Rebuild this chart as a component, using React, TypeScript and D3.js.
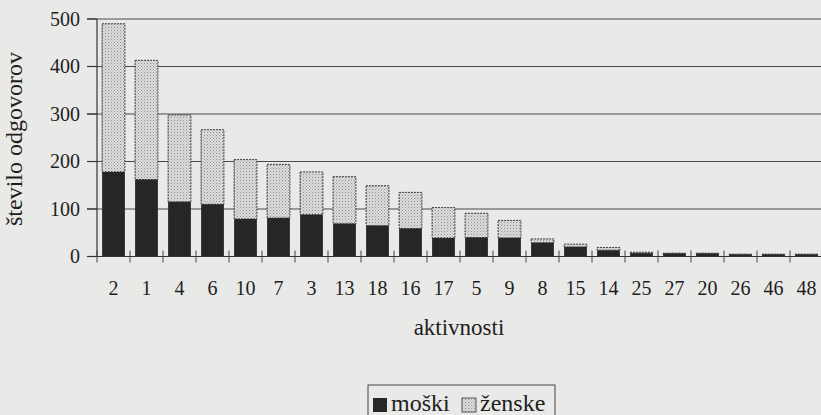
import React, { useRef, useEffect } from 'react';
import * as d3 from 'd3';

// aktivnosti (category codes, in chart order)
const activities = ['2', '1', '4', '6', '10', '7', '3', '13', '18', '16', '17', '5', '9', '8', '15', '14', '25', '27', '20', '26', '46', '48'];
// number of answers, men
const male = [178, 162, 115, 110, 79, 81, 88, 69, 65, 59, 39, 40, 39, 29, 20, 13, 7, 6, 6, 4, 4, 4];
// number of answers, women
const female = [312, 251, 183, 157, 125, 113, 90, 99, 84, 76, 64, 51, 37, 8, 6, 6, 2, 1, 1, 1, 1, 1];
const yTicks = [0, 100, 200, 300, 400, 500];
const seriesNames = ['moški', 'ženske'];

const App = () => {
  const svgRef = useRef<SVGSVGElement>(null);

  useEffect(() => {
    const width = 821;
    const height = 415;
    const font = '"Liberation Serif", "Times New Roman", serif';
    const ink = '#1e1e1e';

    d3.select(svgRef.current).selectAll('*').remove();
    const svg = d3.select(svgRef.current)
      .attr('width', width)
      .attr('height', height);

    // stippled fill for the women's part
    const defs = svg.append('defs');
    const pat = defs.append('pattern')
      .attr('id', 'stipple')
      .attr('width', 3)
      .attr('height', 3)
      .attr('patternUnits', 'userSpaceOnUse');
    pat.append('rect').attr('width', 3).attr('height', 3).attr('fill', '#dcdcdc');
    pat.append('rect').attr('x', 0).attr('y', 0).attr('width', 1).attr('height', 1).attr('fill', '#8f8f8f');
    pat.append('rect').attr('x', 1.5).attr('y', 1.5).attr('width', 1).attr('height', 1).attr('fill', '#aaaaaa');

    // paper
    svg.append('rect').attr('width', width).attr('height', height).attr('fill', '#e9e9e7');

    const x0 = 97;
    const x = d3.scaleBand()
      .domain(activities)
      .range([x0, x0 + 33 * activities.length])
      .paddingInner(0.31)
      .paddingOuter(0.155);

    const y = d3.scaleLinear()
      .domain([0, 500])
      .range([256.5, 19]);

    // gridlines
    svg.append('g')
      .selectAll('line')
      .data(yTicks.filter(d => d > 0))
      .join('line')
      .attr('x1', 87)
      .attr('x2', width)
      .attr('y1', d => y(d))
      .attr('y2', d => y(d))
      .attr('stroke', '#4a4a4a')
      .attr('stroke-width', 1.1);

    // stacked bars
    const rows = activities.map((a, i) => ({ a, m: male[i], f: female[i] }));
    const stack = d3.stack<any>().keys(['m', 'f'])(rows);

    svg.append('g')
      .selectAll('rect')
      .data(stack[1])
      .join('rect')
      .attr('x', (d: any) => x(d.data.a)!)
      .attr('width', x.bandwidth())
      .attr('y', (d: any) => y(d[1]))
      .attr('height', (d: any) => y(d[0]) - y(d[1]))
      .attr('fill', 'url(#stipple)')
      .attr('stroke', '#3a3a3a')
      .attr('stroke-width', 1)
      .attr('stroke-dasharray', '2,1');

    svg.append('g')
      .selectAll('rect')
      .data(stack[0])
      .join('rect')
      .attr('x', (d: any) => x(d.data.a)!)
      .attr('width', x.bandwidth())
      .attr('y', (d: any) => y(d[1]))
      .attr('height', (d: any) => y(d[0]) - y(d[1]))
      .attr('fill', '#262626');

    // y axis
    svg.append('line')
      .attr('x1', x0).attr('x2', x0)
      .attr('y1', y(500)).attr('y2', y(0))
      .attr('stroke', '#333').attr('stroke-width', 1.2);
    svg.append('g')
      .selectAll('line')
      .data(yTicks)
      .join('line')
      .attr('x1', 87).attr('x2', x0)
      .attr('y1', d => y(d)).attr('y2', d => y(d))
      .attr('stroke', '#333').attr('stroke-width', 1.2);
    svg.append('g')
      .selectAll('text')
      .data(yTicks)
      .join('text')
      .attr('x', 80)
      .attr('y', d => y(d))
      .attr('dy', '0.34em')
      .attr('text-anchor', 'end')
      .attr('font-family', font)
      .attr('font-size', 20)
      .attr('fill', ink)
      .text(d => d);

    // x axis
    svg.append('line')
      .attr('x1', 87).attr('x2', width)
      .attr('y1', y(0)).attr('y2', y(0))
      .attr('stroke', '#333').attr('stroke-width', 1.2);
    const step = x.step();
    const bounds = d3.range(activities.length + 1).map(i => x0 + i * step);
    svg.append('g')
      .selectAll('line')
      .data(bounds)
      .join('line')
      .attr('x1', d => d).attr('x2', d => d)
      .attr('y1', y(0) - 6).attr('y2', y(0) + 6)
      .attr('stroke', '#444').attr('stroke-width', 1);
    svg.append('g')
      .selectAll('text')
      .data(activities)
      .join('text')
      .attr('x', d => x(d)! + x.bandwidth() / 2)
      .attr('y', 295)
      .attr('text-anchor', 'middle')
      .attr('font-family', font)
      .attr('font-size', 20)
      .attr('fill', ink)
      .text(d => d);

    // axis titles
    svg.append('text')
      .attr('x', 459)
      .attr('y', 335)
      .attr('text-anchor', 'middle')
      .attr('font-family', font)
      .attr('font-size', 23)
      .attr('fill', ink)
      .text('aktivnosti');
    svg.append('text')
      .attr('transform', 'translate(22, 139) rotate(-90)')
      .attr('text-anchor', 'middle')
      .attr('font-family', font)
      .attr('font-size', 24)
      .attr('fill', ink)
      .text('število odgovorov');

    // legend
    const lg = svg.append('g');
    lg.append('rect')
      .attr('x', 368).attr('y', 385)
      .attr('width', 187).attr('height', 40)
      .attr('fill', 'none')
      .attr('stroke', '#444').attr('stroke-width', 1);
    const fills = ['#262626', 'url(#stipple)'];
    const lx = [373, 462];
    seriesNames.forEach((name, i) => {
      lg.append('rect')
        .attr('x', lx[i]).attr('y', 398)
        .attr('width', 14).attr('height', 14)
        .attr('fill', fills[i])
        .attr('stroke', i === 1 ? '#555' : 'none');
      lg.append('text')
        .attr('x', lx[i] + 18).attr('y', 411)
        .attr('font-family', font)
        .attr('font-size', 24)
        .attr('fill', ink)
        .text(name);
    });
  }, []);

  return <svg ref={svgRef} style={{ position: 'absolute', left: 0, top: 0 }}></svg>;
};

export default App;
